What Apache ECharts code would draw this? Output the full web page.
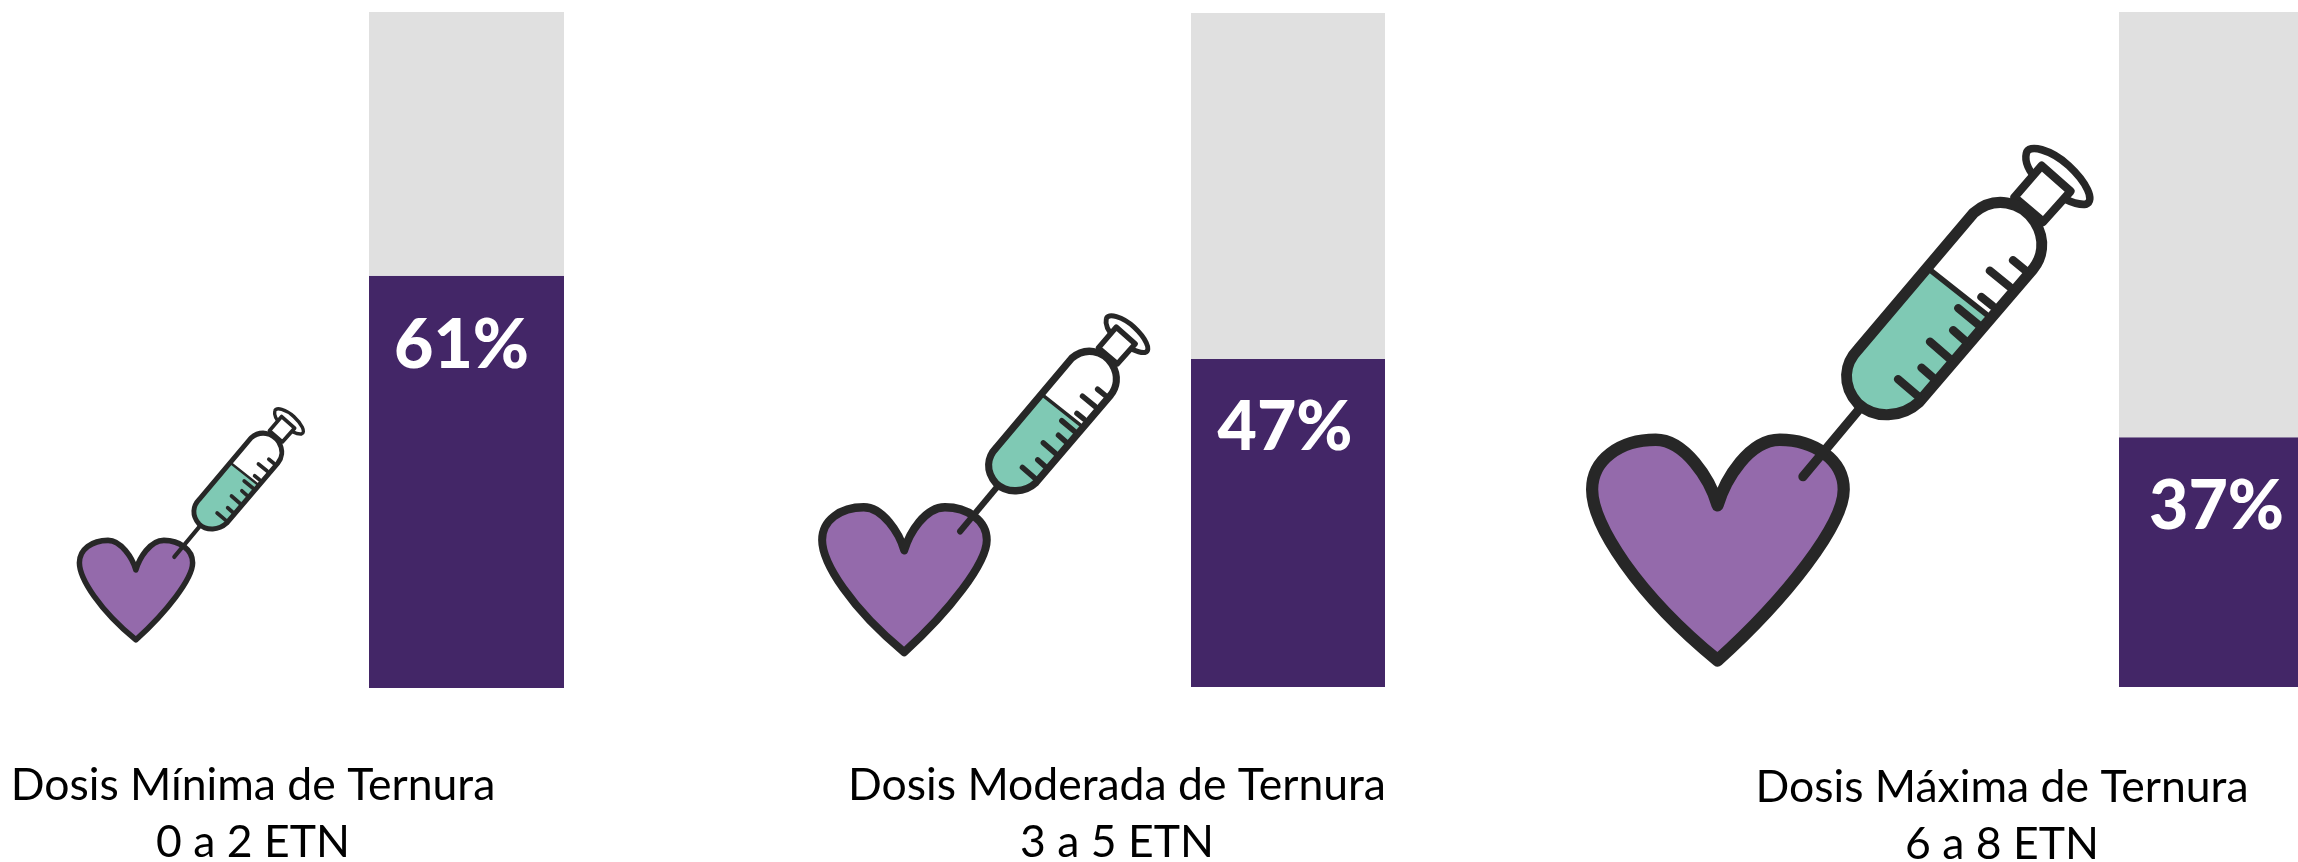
<!DOCTYPE html>
<html><head><meta charset="utf-8">
<style>html,body{margin:0;padding:0;background:#fff;overflow:hidden}#c{width:2298px;height:862px}</style>
<script src="https://cdn.jsdelivr.net/npm/echarts@6/dist/echarts.min.js"></script>
</head><body><div id="c"></div>
<script>
const categories = ['Dosis Mínima de Ternura', 'Dosis Moderada de Ternura', 'Dosis Máxima de Ternura'];
const ranges = ['0 a 2 ETN', '3 a 5 ETN', '6 a 8 ETN'];
const purpleValues = [61, 47, 37];
const greyValues = [39, 53, 63];
const axisTops = [100, 96.6, 100];

const ICON = {
  heart: 'M437 1075 C415 1000 340 888 255 888 C150 888 68 945 68 1030 C68 1130 200 1330 437 1518 C640 1340 808 1130 808 1030 C808 945 720 888 620 888 C530 888 460 1000 437 1075 Z',
  barrel: 'M1190 240 C1250 190 1330 205 1370 265 C1405 320 1390 370 1365 400 L1030 780 C980 825 900 830 850 785 C800 730 810 670 850 630 Z',
  fluid: 'M1065 400 L1225 535 L1030 780 C980 825 900 830 850 785 C800 730 810 670 850 630 Z',
  flange: 'M1345 70 C1350 40 1420 60 1470 105 C1520 150 1550 205 1520 215 C1480 220 1420 180 1385 155 C1350 120 1340 90 1345 70 Z',
  neck: 'M1310 195 L1390 105 L1475 178 L1395 265 Z'
};
Object.keys(ICON).forEach(k => echarts.graphic.registerShape('icon_' + k, echarts.graphic.extendPath(ICON[k], {})));

const INK = '#272727';
const seg = (x1, y1, x2, y2, w) => ({
  type: 'line', shape: { x1, y1, x2, y2 },
  style: { stroke: INK, lineWidth: w, lineCap: 'round', fill: null }
});
const shape = (k, fill, lw) => ({
  type: 'icon_' + k,
  style: { fill, stroke: lw ? INK : null, lineWidth: lw || 0, lineJoin: 'round' }
});
const iconChildren = () => [
  shape('heart', '#946AAB', 36),
  seg(688, 993, 850, 805, 27),
  shape('flange', '#FFFFFF', 22),
  shape('neck', '#FFFFFF', 24),
  shape('barrel', '#FFFFFF', 0),
  shape('fluid', '#7FC9B4', 0),
  (() => { const s = shape('barrel', null, 32); s.style.fill = 'none'; return s; })(),
  seg(1065, 405, 1228, 530, 16),
  seg(968, 715, 1025, 762, 24),
  seg(1037, 682, 1070, 710, 24),
  seg(1062, 608, 1118, 655, 24),
  seg(1130, 575, 1165, 605, 24),
  seg(1145, 512, 1205, 560, 24),
  seg(1213, 480, 1245, 505, 24),
  seg(1238, 405, 1295, 450, 24),
  seg(1306, 375, 1340, 402, 24)
];
const icons = [
  { x: 69, y: 400, sx: .153, sy: .158 },
  { x: 807, y: 303, sx: .2225, sy: .23 },
  { x: 1569, y: 129, sx: .34, sy: .35 }
];

const frames = [
  { left: 369, top: 12, height: 676, width: 195 },
  { left: 1191, top: 13, height: 674, width: 194 },
  { left: 2119, top: 12, height: 675, width: 195 }
];
const titleCentres = [253, 1117, 2002];
const titleTops = [757, 757, 759];
const labelShift = [[-5, 6], [-3, 5], [8, 6]];

const option = {
  animation: false,
  backgroundColor: '#ffffff',
  title: categories.map((c, i) => ({
    text: c + '\n' + ranges[i],
    left: titleCentres[i], top: titleTops[i], textAlign: 'center', padding: 0,
    textStyle: { fontFamily: 'Lato', fontWeight: 'normal', fontSize: 44.5, lineHeight: 57, color: '#000000' }
  })),
  grid: frames.map(f => ({ left: f.left, top: f.top, width: f.width, height: f.height, containLabel: false })),
  xAxis: categories.map((c, i) => ({ type: 'category', gridIndex: i, data: [c], show: false })),
  yAxis: categories.map((c, i) => ({ type: 'value', gridIndex: i, min: 0, max: axisTops[i], show: false })),
  series: categories.flatMap((c, i) => [
    {
      type: 'bar', xAxisIndex: i, yAxisIndex: i, stack: 's' + i, barWidth: '100%', silent: true,
      data: [purpleValues[i]], itemStyle: { color: '#432667' },
      label: {
        show: true, position: 'insideTop', distance: 30, offset: labelShift[i],
        formatter: '{c}%', color: '#ffffff', fontFamily: 'Lato', fontWeight: 900, fontSize: 68
      }
    },
    {
      type: 'bar', xAxisIndex: i, yAxisIndex: i, stack: 's' + i, barWidth: '100%', silent: true,
      data: [greyValues[i]], itemStyle: { color: '#E0E0E0' }
    }
  ]),
  graphic: icons.map(p => ({
    type: 'group', x: p.x, y: p.y, scaleX: p.sx, scaleY: p.sy, silent: true, children: iconChildren()
  }))
};
const chart = echarts.init(document.getElementById('c'), null, { renderer: 'canvas', width: 2298, height: 862 });
chart.setOption(option);
</script></body></html>
